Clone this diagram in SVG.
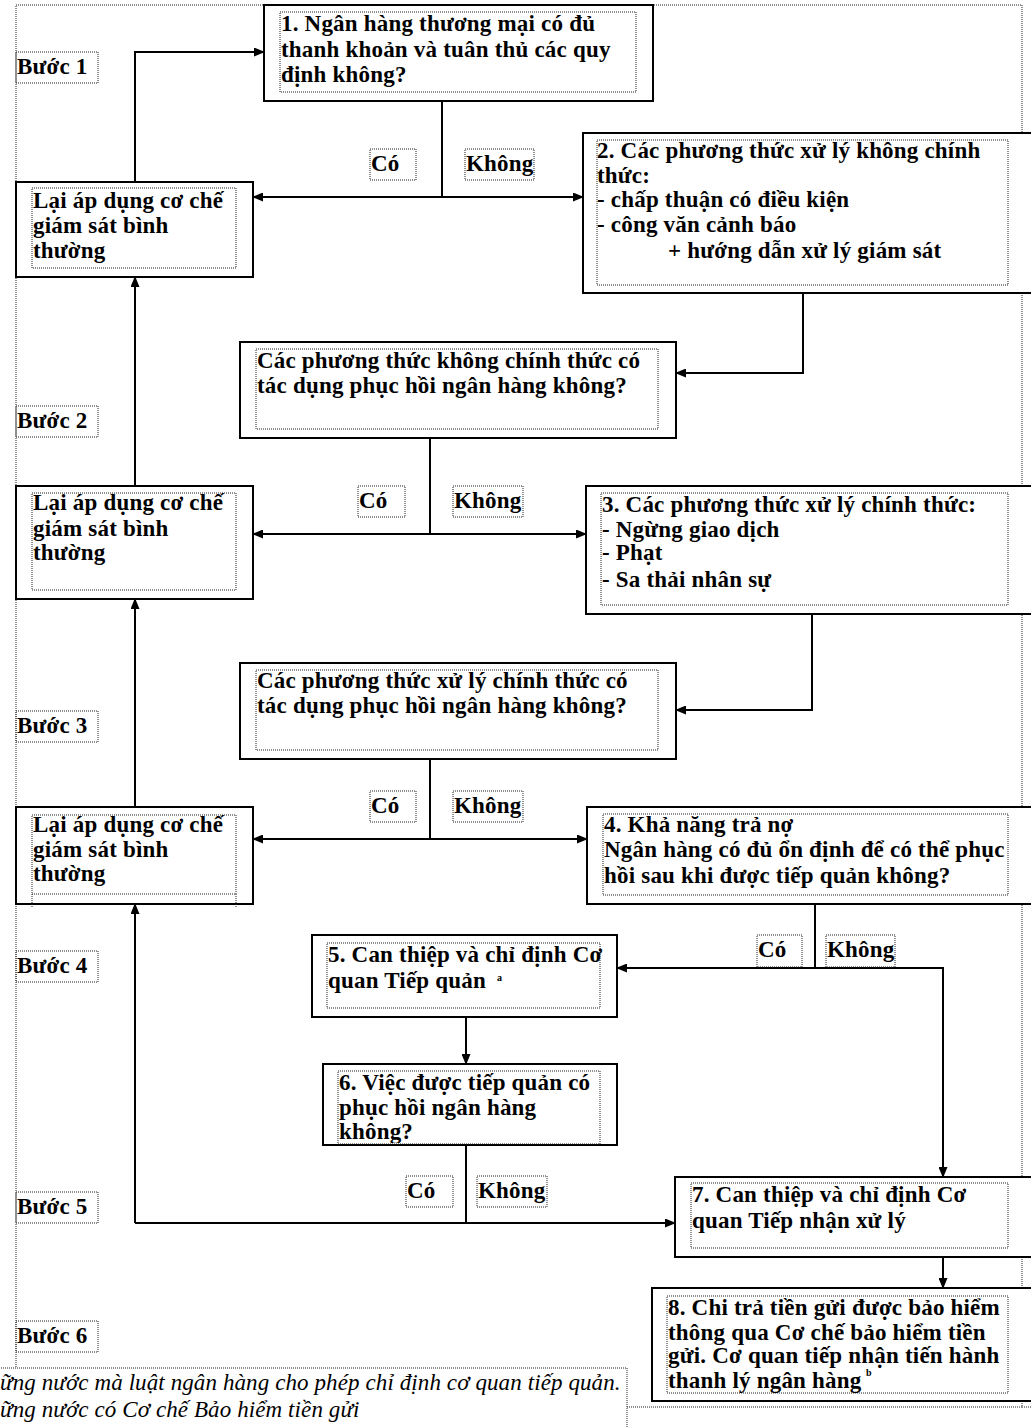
<svg xmlns="http://www.w3.org/2000/svg" width="1031" height="1428" viewBox="0 0 1031 1428">
<style>
.t{font-family:"Liberation Serif","Times New Roman",serif;font-weight:bold;font-size:23px;letter-spacing:0.2px;fill:#000}
.fn{font-family:"Liberation Serif","Times New Roman",serif;font-style:italic;font-size:23px;letter-spacing:0.1px;fill:#000}
.sup{font-family:"Liberation Serif",serif;font-weight:bold;font-size:10px;fill:#000}
.box{fill:#fff;stroke:#000;stroke-width:2}
.dot{fill:none;stroke:#222;stroke-width:1;stroke-dasharray:1 1}
.dotw{fill:#fff;stroke:#222;stroke-width:1;stroke-dasharray:1 1}
.c{fill:none;stroke:#000;stroke-width:2}
</style>
<defs>
<marker id="arr" markerUnits="userSpaceOnUse" markerWidth="11" markerHeight="9" refX="10" refY="4.5" orient="auto-start-reverse">
<path d="M0,0 L11,4.5 L0,9 z" fill="#000"/>
</marker>
<clipPath id="clip6"><rect x="338" y="1071" width="262" height="72"/></clipPath>
</defs>

<g id="frame">
<rect class="dot" x="16" y="5" width="1006" height="1402"/>
<line class="dot" x1="1022" y1="1407" x2="1031" y2="1407"/>
</g>

<g id="steps">
<g id="step1"><rect class="dot" x="16" y="52" width="82" height="31"/><text class="t" x="17" y="74">Bước 1</text></g>
<g id="step2"><rect class="dot" x="16" y="406" width="82" height="31"/><text class="t" x="17" y="428">Bước 2</text></g>
<g id="step3"><rect class="dot" x="16" y="711" width="82" height="31"/><text class="t" x="17" y="733">Bước 3</text></g>
<g id="step4"><rect class="dot" x="16" y="951" width="82" height="31"/><text class="t" x="17" y="973">Bước 4</text></g>
<g id="step5"><rect class="dot" x="16" y="1192" width="82" height="31"/><text class="t" x="17" y="1214">Bước 5</text></g>
<g id="step6"><rect class="dot" x="16" y="1321" width="82" height="31"/><text class="t" x="17" y="1343">Bước 6</text></g>
</g>

<g id="connectors">
<path class="c" d="M135,182 V52 H264" marker-end="url(#arr)"/>
<path class="c" d="M442,101 V197"/>
<path class="c" d="M253,197 H583" marker-start="url(#arr)" marker-end="url(#arr)"/>
<path class="c" d="M803,293 V373 H676" marker-end="url(#arr)"/>
<path class="c" d="M135,486 V277" marker-end="url(#arr)"/>
<path class="c" d="M430,438 V534"/>
<path class="c" d="M253,534 H586" marker-start="url(#arr)" marker-end="url(#arr)"/>
<path class="c" d="M812,614 V710 H676" marker-end="url(#arr)"/>
<path class="c" d="M135,807 V599" marker-end="url(#arr)"/>
<path class="c" d="M430,759 V839"/>
<path class="c" d="M253,839 H587" marker-start="url(#arr)" marker-end="url(#arr)"/>
<path class="c" d="M815,904 V968"/>
<path class="c" d="M617,968 H943 V1177" marker-start="url(#arr)" marker-end="url(#arr)"/>
<path class="c" d="M466,1017 V1064" marker-end="url(#arr)"/>
<path class="c" d="M466,1145 V1223"/>
<path class="c" d="M135,1223 V904" marker-end="url(#arr)"/>
<path class="c" d="M135,1223 H675" marker-end="url(#arr)"/>
<path class="c" d="M943,1257 V1288" marker-end="url(#arr)"/>
</g>

<g id="labels">
<g id="lbl-co-1"><rect class="dot" x="370" y="149" width="46" height="31"/><text class="t" x="371" y="171">Có</text></g>
<g id="lbl-khong-1"><rect class="dot" x="465" y="149" width="69" height="31"/><text class="t" x="466" y="171">Không</text></g>
<g id="lbl-co-2"><rect class="dot" x="358" y="486" width="47" height="31"/><text class="t" x="359" y="508">Có</text></g>
<g id="lbl-khong-2"><rect class="dot" x="453" y="486" width="70" height="31"/><text class="t" x="454" y="508">Không</text></g>
<g id="lbl-co-3"><rect class="dot" x="370" y="791" width="46" height="31"/><text class="t" x="371" y="813">Có</text></g>
<g id="lbl-khong-3"><rect class="dot" x="453" y="791" width="70" height="31"/><text class="t" x="454" y="813">Không</text></g>
<g id="lbl-co-4"><rect class="dot" x="757" y="935" width="45" height="32"/><text class="t" x="758" y="957">Có</text></g>
<g id="lbl-khong-4"><rect class="dot" x="826" y="935" width="69" height="32"/><text class="t" x="827" y="957">Không</text></g>
<g id="lbl-co-5"><rect class="dot" x="406" y="1176" width="47" height="31"/><text class="t" x="407" y="1198">Có</text></g>
<g id="lbl-khong-5"><rect class="dot" x="477" y="1176" width="70" height="31"/><text class="t" x="478" y="1198">Không</text></g>
</g>

<g id="n1">
<rect class="box" x="264" y="5" width="389" height="96"/>
<rect class="dot" x="280" y="12" width="356" height="80"/>
<text class="t" x="281" y="31">1. Ngân hàng thương mại có đủ</text>
<text class="t" x="281" y="57">thanh khoản và tuân thủ các quy</text>
<text class="t" x="281" y="82">định không?</text>
</g>

<g id="l1">
<rect class="box" x="16" y="182" width="237" height="95"/>
<rect class="dot" x="32" y="188" width="204" height="80"/>
<text class="t" x="33" y="208">Lại áp dụng cơ chế</text>
<text class="t" x="33" y="233">giám sát bình</text>
<text class="t" x="33" y="258">thường</text>
</g>

<g id="n2">
<rect class="box" x="583" y="133" width="460" height="160"/>
<rect class="dot" x="597" y="140" width="411" height="145"/>
<text class="t" x="597" y="158">2. Các phương thức xử lý không chính</text>
<text class="t" x="597" y="183">thức:</text>
<text class="t" x="597" y="207">- chấp thuận có điều kiện</text>
<text class="t" x="597" y="232">- công văn cảnh báo</text>
<text class="t" x="668" y="258">+ hướng dẫn xử lý giám sát</text>
</g>

<g id="q2">
<rect class="box" x="240" y="342" width="436" height="96"/>
<rect class="dot" x="256" y="349" width="402" height="80"/>
<text class="t" x="257" y="368">Các phương thức không chính thức có</text>
<text class="t" x="257" y="393">tác dụng phục hồi ngân hàng không?</text>
</g>

<g id="l2">
<rect class="box" x="16" y="486" width="237" height="113"/>
<rect class="dot" x="32" y="493" width="204" height="97"/>
<text class="t" x="33" y="510">Lại áp dụng cơ chế</text>
<text class="t" x="33" y="536">giám sát bình</text>
<text class="t" x="33" y="560">thường</text>
</g>

<g id="n3">
<rect class="box" x="586" y="486" width="460" height="128"/>
<rect class="dot" x="601" y="493" width="407" height="112"/>
<text class="t" x="602" y="512">3. Các phương thức xử lý chính thức:</text>
<text class="t" x="602" y="537">- Ngừng giao dịch</text>
<text class="t" x="602" y="560">- Phạt</text>
<text class="t" x="602" y="587">- Sa thải nhân sự</text>
</g>

<g id="q3">
<rect class="box" x="240" y="663" width="436" height="96"/>
<rect class="dot" x="256" y="670" width="402" height="80"/>
<text class="t" x="257" y="688">Các phương thức xử lý chính thức có</text>
<text class="t" x="257" y="713">tác dụng phục hồi ngân hàng không?</text>
</g>

<g id="l3">
<rect class="box" x="16" y="807" width="237" height="97"/>
<rect class="dot" x="32" y="815" width="204" height="79"/>
<line class="dot" x1="32" y1="894" x2="32" y2="908"/>
<line class="dot" x1="236" y1="894" x2="236" y2="908"/>
<text class="t" x="33" y="832">Lại áp dụng cơ chế</text>
<text class="t" x="33" y="857">giám sát bình</text>
<text class="t" x="33" y="881">thường</text>
</g>

<g id="n4">
<rect class="box" x="587" y="807" width="460" height="97"/>
<rect class="dot" x="603" y="814" width="405" height="81"/>
<text class="t" x="604" y="832">4. Khả năng trả nợ</text>
<text class="t" x="604" y="857">Ngân hàng có đủ ổn định để có thể phục</text>
<text class="t" x="604" y="883">hồi sau khi được tiếp quản không?</text>
</g>

<g id="n5">
<rect class="box" x="312" y="935" width="305" height="82"/>
<rect class="dot" x="327" y="943" width="273" height="65"/>
<text class="t" x="328" y="962">5. Can thiệp và chỉ định Cơ</text>
<text class="t" x="328" y="988">quan Tiếp quản</text>
<text class="sup" x="497" y="981">a</text>
</g>

<g id="n6">
<rect class="box" x="323" y="1064" width="294" height="81"/>
<rect class="dot" x="338" y="1071" width="262" height="73"/>
<g clip-path="url(#clip6)">
<text class="t" x="339" y="1090">6. Việc được tiếp quản có</text>
<text class="t" x="339" y="1115">phục hồi ngân hàng</text>
<text class="t" x="339" y="1139">không?</text>
</g>
</g>

<g id="n7">
<rect class="box" x="675" y="1177" width="370" height="80"/>
<rect class="dot" x="691" y="1183" width="317" height="65"/>
<text class="t" x="692" y="1202">7. Can thiệp và chỉ định Cơ</text>
<text class="t" x="692" y="1228">quan Tiếp nhận xử lý</text>
</g>

<g id="n8">
<rect class="box" x="652" y="1288" width="393" height="113"/>
<rect class="dot" x="667" y="1296" width="341" height="97"/>
<text class="t" x="668" y="1315">8. Chi trả tiền gửi được bảo hiểm</text>
<text class="t" x="668" y="1340">thông qua Cơ chế bảo hiểm tiền</text>
<text class="t" x="668" y="1363">gửi. Cơ quan tiếp nhận tiến hành</text>
<text class="t" x="668" y="1388">thanh lý ngân hàng</text>
<text class="sup" x="866" y="1376">b</text>
</g>

<g id="footnotes">
<rect class="dotw" x="-5" y="1368" width="632" height="80"/>
<text class="fn" x="0" y="1390">ững nước mà luật ngân hàng cho phép chỉ định cơ quan tiếp quản.</text>
<text class="fn" x="0" y="1417">ững nước có Cơ chế Bảo hiểm tiền gửi</text>
</g>
</svg>
